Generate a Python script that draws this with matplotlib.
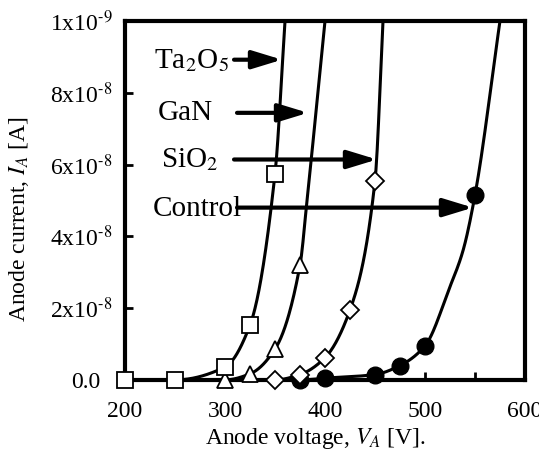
import numpy as np
import matplotlib
matplotlib.use("Agg")
import matplotlib.pyplot as plt
from matplotlib.transforms import ScaledTranslation

plt.rcParams['font.family'] = ['Liberation Serif', 'DejaVu Serif']
plt.rcParams['mathtext.fontset'] = 'stix'

# ---- data (current in units of 1e-8 A) ----
ta_v = [200, 250, 300, 325, 350]
ta_i = [0.0, 0.0, 0.36, 1.53, 5.75]
ta_curve_v = [200, 250, 300, 325, 350, 360]
ta_curve_i = [0.0, 0.0, 0.36, 1.53, 5.75, 10.0]

gan_v = [300, 325, 350, 375]
gan_i = [0.0, 0.17, 0.86, 3.2]
gan_curve_v = [200, 250, 300, 325, 350, 375, 382, 400]
gan_curve_i = [0.0, 0.0, 0.0, 0.17, 0.86, 3.2, 5.0, 10.0]

sio_v = [350, 375, 400, 425, 450]
sio_i = [0.0, 0.15, 0.62, 1.95, 5.55]
sio_curve_v = [200, 250, 300, 350, 375, 400, 425, 450, 458]
sio_curve_i = [0.0, 0.0, 0.0, 0.0, 0.15, 0.62, 1.95, 5.55, 10.0]

ctl_v = [375, 400, 450, 475, 500, 550]
ctl_i = [0.0, 0.05, 0.15, 0.4, 0.95, 5.15]
ctl_curve_v = [200, 250, 300, 375, 400, 450, 475, 500, 525, 538, 550, 575]
ctl_curve_i = [0.0, 0.0, 0.0, 0.0, 0.05, 0.15, 0.4, 0.95, 2.6, 3.6, 5.15, 10.0]

labels = ['Ta$_2$O$_5$', 'GaN', 'SiO$_2$', 'Control']
label_pos = [(229, 8.69), (233, 7.25), (236, 5.92), (228, 4.56)]
arrow_tail = [(309, 8.92), (312, 7.44), (309, 6.14), (312, 4.80)]
arrow_tip = [(357, 8.92), (383, 7.44), (452, 6.14), (548, 4.80)]

xticks = [200, 300, 400, 500, 600]
yticks = [0, 2, 4, 6, 8, 10]
ytick_labels = ['0.0', r'2x10$^{\text{-}8}$', r'4x10$^{\text{-}8}$', r'6x10$^{\text{-}8}$',
                r'8x10$^{\text{-}8}$', r'1x10$^{\text{-}9}$']


def pchip(x, y, xs):
    x = np.asarray(x, float); y = np.asarray(y, float)
    h = np.diff(x); d = np.diff(y) / h
    n = len(x)
    m = np.zeros(n)
    for k in range(1, n - 1):
        if d[k - 1] * d[k] > 0:
            w1 = 2 * h[k] + h[k - 1]; w2 = h[k] + 2 * h[k - 1]
            m[k] = (w1 + w2) / (w1 / d[k - 1] + w2 / d[k])
        else:
            m[k] = 0.0
    m[0] = d[0]; m[-1] = d[-1]
    out = np.empty_like(xs)
    for j, xv in enumerate(xs):
        k = min(max(np.searchsorted(x, xv) - 1, 0), n - 2)
        t = (xv - x[k]) / h[k]
        h00 = 2 * t**3 - 3 * t**2 + 1; h10 = t**3 - 2 * t**2 + t
        h01 = -2 * t**3 + 3 * t**2; h11 = t**3 - t**2
        out[j] = h00 * y[k] + h10 * h[k] * m[k] + h01 * y[k + 1] + h11 * h[k] * m[k + 1]
    return out


fig = plt.figure(figsize=(5.39, 4.55), dpi=100)
ax = fig.add_axes([0.232, 0.165, 0.742, 0.789])

for cv, ci in [(ctl_curve_v, ctl_curve_i), (sio_curve_v, sio_curve_i),
               (gan_curve_v, gan_curve_i), (ta_curve_v, ta_curve_i)]:
    xs = np.linspace(cv[0], cv[-1], 400)
    ax.plot(xs, pchip(cv, ci, xs), color='black', lw=2.2, zorder=2, clip_on=False)

ms = 12
ax.plot(ctl_v, ctl_i, 'o', ms=ms, mfc='black', mec='black', zorder=3, clip_on=False)
ax.plot(sio_v, sio_i, 'D', ms=8.7, mfc='white', mec='black', mew=1.3, zorder=3, clip_on=False)
ax.plot(gan_v, gan_i, '^', ms=ms, mfc='white', mec='black', mew=1.3, zorder=3, clip_on=False)
ax.plot(ta_v, ta_i, 's', ms=ms, mfc='white', mec='black', mew=1.3, zorder=4, clip_on=False)

for lab, lp, tail, tip in zip(labels, label_pos, arrow_tail, arrow_tip):
    ax.annotate('', xy=tip, xytext=tail,
                arrowprops=dict(arrowstyle='-|>,head_length=1.8,head_width=0.55',
                                color='black', lw=3.0, shrinkA=0, shrinkB=0),
                zorder=5)
    ax.text(lp[0], lp[1], lab, fontsize=21, ha='left', va='baseline', zorder=6,
            clip_on=False)

ax.set_xlim(200, 600)
ax.set_ylim(0, 10)
ax.set_xticks(xticks)
ax.set_xticks(np.arange(200, 601, 50), minor=True)
ax.set_yticks(yticks)
ax.set_yticklabels(ytick_labels)
ax.tick_params(axis='both', which='both', direction='in', width=2, labelsize=17)
ax.tick_params(axis='both', which='major', length=6)
ax.tick_params(axis='x', which='major', pad=15)
ax.tick_params(axis='y', which='major', pad=9)
ax.tick_params(axis='x', which='minor', length=6)
for s in ax.spines.values():
    s.set_linewidth(3)

ax.set_xlabel('Anode voltage, $V_A$ [V].', fontsize=17)
ax.set_ylabel('Anode current, $I_A$ [A]', fontsize=17)
ax.xaxis.set_label_coords(0.475, -0.128)
ax.yaxis.set_label_coords(-0.235, 0.448)

lbl0 = ax.get_yticklabels()[0]
lbl0.set_transform(lbl0.get_transform() + ScaledTranslation(-12 / 100, 0, fig.dpi_scale_trans))

fig.savefig('out.png', dpi=100)
